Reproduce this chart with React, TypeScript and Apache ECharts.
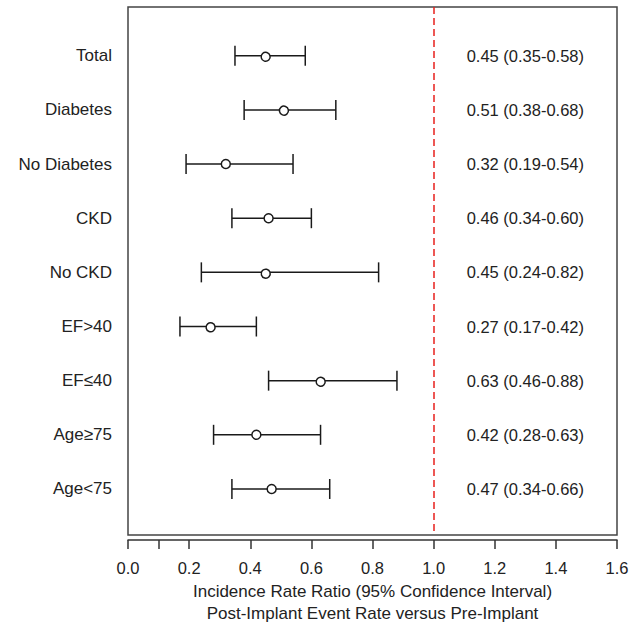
import React, { useEffect, useRef } from "react";
import * as echarts from "echarts";

const categories = ["Total", "Diabetes", "No Diabetes", "CKD", "No CKD", "EF>40", "EF≤40", "Age≥75", "Age<75"];
const estimate = [0.45, 0.51, 0.32, 0.46, 0.45, 0.27, 0.63, 0.42, 0.47];
const lower = [0.35, 0.38, 0.19, 0.34, 0.24, 0.17, 0.46, 0.28, 0.34];
const upper = [0.58, 0.68, 0.54, 0.6, 0.82, 0.42, 0.88, 0.63, 0.66];
const tickValues = [0, 0.1, 0.2, 0.4, 0.6, 0.8, 1.0, 1.2, 1.4, 1.6];
const labelValues = [0, 0.2, 0.4, 0.6, 0.8, 1.0, 1.2, 1.4, 1.6];
const referenceLine = 1.0;
const textColumnX = 1.108;

const FONT = "'Liberation Sans', Arial, Helvetica, sans-serif";
const TEXT = "#222";
const INK = "#1a1a1a";

export default function App() {
  const ref = useRef<HTMLDivElement>(null);
  useEffect(() => {
    if (!ref.current) return;
    const chart = echarts.init(ref.current, null, { renderer: "svg" });
    const rows = categories.map((c, i) => [i, estimate[i], lower[i], upper[i]]);
    const fmt = (v: number) => v.toFixed(2);
    chart.setOption({
      animation: false,
      backgroundColor: "#fff",
      textStyle: { fontFamily: FONT },
      grid: {
        left: 128,
        right: 19,
        top: 7,
        bottom: 88,
        containLabel: false,
        outerBoundsMode: "none",
        show: true,
        borderColor: "#444",
        borderWidth: 1.5,
        backgroundColor: "transparent",
      },
      xAxis: {
        type: "value",
        min: 0,
        max: 1.6,
        offset: 5,
        splitLine: { show: false },
        axisLine: { show: true, onZero: false, lineStyle: { color: "#333", width: 1.5 } },
        axisTick: {
          show: true,
          length: 9,
          customValues: tickValues,
          lineStyle: { color: "#333", width: 1.5 },
        },
        axisLabel: {
          customValues: labelValues,
          formatter: (v: number) => v.toFixed(1),
          fontSize: 16.5,
          color: TEXT,
          margin: 19,
          fontFamily: FONT,
        },
        name: "Incidence Rate Ratio (95% Confidence Interval)\nPost-Implant Event Rate versus Pre-Implant",
        nameLocation: "middle",
        nameGap: 41,
        nameTextStyle: { fontSize: 17, color: TEXT, lineHeight: 21.5, fontFamily: FONT },
      },
      yAxis: {
        type: "value",
        inverse: true,
        min: -0.9,
        max: 8.85,
        splitLine: { show: false },
        axisLine: { show: false },
        axisTick: { show: false },
        axisLabel: {
          customValues: categories.map((_, i) => i),
          formatter: (v: number) => categories[Math.round(v)] ?? "",
          fontSize: 17,
          color: TEXT,
          margin: 16,
          fontFamily: FONT,
        },
      },
      series: [
        {
          type: "custom",
          data: rows,
          encode: { x: [1, 2, 3], y: 0 },
          renderItem: (params: any, api: any) => {
            const i = api.value(0);
            const e = api.value(1);
            const lo = api.value(2);
            const hi = api.value(3);
            const pE = api.coord([e, i]);
            const pL = api.coord([lo, i]);
            const pH = api.coord([hi, i]);
            const pT = api.coord([textColumnX, i]);
            const cap = 10;
            const ls = { stroke: INK, lineWidth: 1.5, fill: "none" };
            return {
              type: "group",
              children: [
                { type: "line", shape: { x1: pL[0], y1: pL[1], x2: pH[0], y2: pH[1] }, style: ls },
                { type: "line", shape: { x1: pL[0], y1: pL[1] - cap, x2: pL[0], y2: pL[1] + cap }, style: ls },
                { type: "line", shape: { x1: pH[0], y1: pH[1] - cap, x2: pH[0], y2: pH[1] + cap }, style: ls },
                { type: "circle", shape: { cx: pE[0], cy: pE[1], r: 4.5 }, style: { fill: "#fff", stroke: INK, lineWidth: 1.5 } },
                {
                  type: "text",
                  x: pT[0],
                  y: pT[1],
                  style: {
                    text: `${fmt(e)} (${fmt(lo)}-${fmt(hi)})`,
                    fill: TEXT,
                    fontSize: 16.5,
                    fontFamily: FONT,
                    align: "left",
                    verticalAlign: "middle",
                  },
                },
              ],
            };
          },
          markLine: {
            silent: true,
            symbol: "none",
            label: { show: false },
            lineStyle: { color: "#e8201c", type: [7, 4], width: 1.5 },
            data: [{ xAxis: referenceLine }],
          },
        },
      ],
    });
    return () => chart.dispose();
  }, []);
  return (
    <div
      ref={ref}
      style={{ position: "fixed", left: 0, top: 0, width: 636, height: 623, background: "#fff" }}
    />
  );
}
